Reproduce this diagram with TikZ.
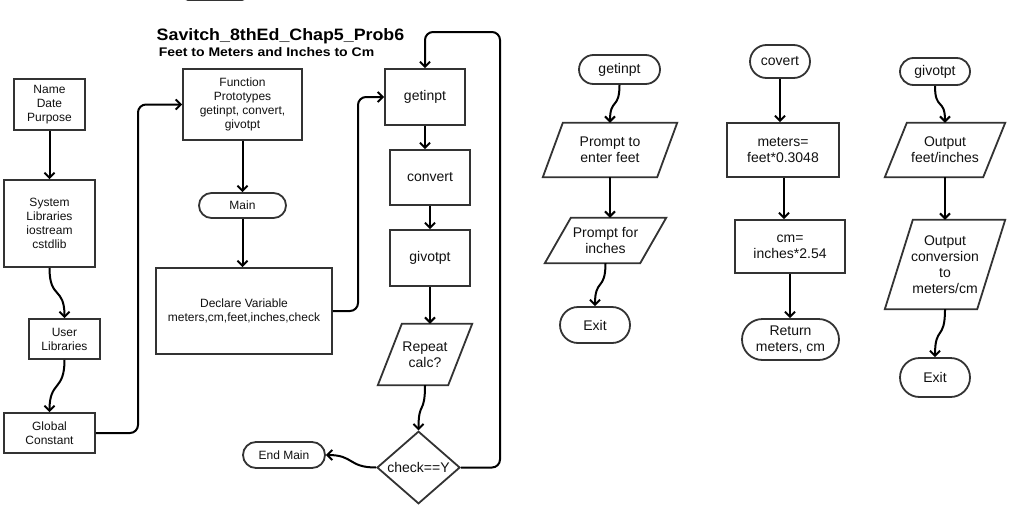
\documentclass[tikz,border=0pt]{standalone}
\usepackage{graphicx}
\usepackage{fontspec}
\setmainfont{Liberation Sans}
\usetikzlibrary{arrows.meta,shapes.geometric,shapes.misc}
\definecolor{boxc}{HTML}{333333}
\definecolor{txtc}{HTML}{111111}
\newcommand\fsa{\fontsize{12}{14}\selectfont}
\newcommand\fsb{\fontsize{14}{16}\selectfont}
\newcommand\drawpara[2]{\draw[boxline] ([xshift=#2]#1.north west) -- (#1.north east) -- ([xshift=-#2]#1.south east) -- (#1.south west) -- cycle;}
\tikzset{
  boxline/.style={draw=boxc, line width=1.8pt, line join=miter},
  box/.style={rectangle, draw=boxc, line width=1.8pt, align=center, inner sep=0pt, text=txtc, font=\fsa},
  term/.style={rounded rectangle, draw=boxc, line width=1.8pt, align=center, inner sep=0pt, text=txtc, font=\fsa},
  para/.style={rectangle, align=center, inner sep=0pt, text=txtc, font=\fsb},
  conn/.style={draw=black, line width=2pt, -{Straight Barb[length=5pt,width=10pt,line width=2pt]}},
}
\begin{document}
\begin{tikzpicture}[x=1pt,y=-1pt]
\useasboundingbox[fill=white] (0,0) rectangle (1016,522);
% partially visible shape at top
\draw[boxline, rounded corners=3pt] (185,-20) -- (185,0) -- (245,0) -- (245,-20);
% titles
\node[font=\fontsize{16.5}{18}\selectfont\bfseries, inner sep=0pt] (title) at (280.5,36) {\scalebox{1.08}[1]{Savitch\_8thEd\_Chap5\_Prob6}};
\node[font=\fontsize{12.5}{14}\selectfont\bfseries, inner sep=0pt] (sub) at (266.5,52) {\scalebox{1.12}[1]{Feet to Meters and Inches to Cm}};
% left column
\node[box, minimum width=71pt, minimum height=51pt] (ndp) at (49.5,104.5) {Name\\Date\\Purpose};
\node[box, minimum width=91pt, minimum height=87pt] (sl) at (49.5,223.5) {System\\Libraries\\iostream\\cstdlib};
\node[box, minimum width=71pt, minimum height=40pt] (ul) at (64.5,339) {User\\Libraries};
\node[box, minimum width=91pt, minimum height=40pt] (gc) at (49.5,433) {Global\\Constant};
% main column
\node[box, minimum width=119pt, minimum height=71pt] (fp) at (242.5,104.5) {Function\\Prototypes\\getinpt, convert,\\givotpt};
\node[term, minimum width=87pt, minimum height=25pt] (mn) at (242.5,205.5) {Main};
\node[box, minimum width=176pt, minimum height=86pt] (dv) at (244,311) {Declare Variable\\meters,cm,feet,inches,check};
\node[box, font=\fsb, minimum width=80pt, minimum height=56pt] (gi) at (425,97) {getinpt};
\node[box, font=\fsb, minimum width=80pt, minimum height=55pt] (cv) at (430,177.5) {convert};
\node[box, font=\fsb, minimum width=80pt, minimum height=56pt] (gv) at (430,258) {givotpt};
\node[para, minimum width=94pt, minimum height=61pt] (rc) at (425,354.5) {Repeat\\calc?};
\drawpara{rc}{24pt}
\node[diamond, draw=boxc, line width=1.8pt, inner sep=0pt, minimum width=83pt, minimum height=69pt, text=txtc, font=\fsb] (chk) at (418.5,467.5) {check==Y};
\node[term, minimum width=82pt, minimum height=26pt] (em) at (284,455) {End Main};
% getinpt function
\node[term, font=\fsb, minimum width=81pt, minimum height=29pt] (t1) at (619.5,69.5) {getinpt};
\node[para, minimum width=134pt, minimum height=54pt] (p1) at (610,150) {Prompt to\\enter feet};
\drawpara{p1}{20pt}
\node[para, minimum width=121pt, minimum height=45pt] (p2) at (605.5,240.5) {Prompt for\\inches};
\drawpara{p2}{26pt}
\node[term, font=\fsb, minimum width=70pt, minimum height=36pt] (x1) at (595,325) {Exit};
% covert function
\node[term, font=\fsb, minimum width=60pt, minimum height=33pt] (t2) at (780,61.5) {covert};
\node[box, font=\fsb, minimum width=112pt, minimum height=54pt] (m1) at (783,150) {meters=\\feet*0.3048};
\node[box, font=\fsb, minimum width=110pt, minimum height=53pt] (m2) at (790,246.5) {cm=\\inches*2.54};
\node[term, font=\fsb, minimum width=97pt, minimum height=41pt] (r2) at (790.5,339.5) {Return\\meters, cm};
% givotpt function
\node[term, font=\fsb, minimum width=70pt, minimum height=27pt] (t3) at (935,71.5) {givotpt};
\node[para, minimum width=120pt, minimum height=54pt] (o1) at (945,150) {Output\\feet/inches};
\drawpara{o1}{22pt}
\node[para, minimum width=120pt, minimum height=89pt] (o2) at (945,264.5) {Output\\conversion\\to\\meters/cm};
\drawpara{o2}{28pt}
\node[term, font=\fsb, minimum width=70pt, minimum height=39pt] (x3) at (935,377.5) {Exit};
% waypoints
\coordinate (w1) at (138,433);
\coordinate (w2) at (358,311);
\coordinate (w3) at (500,32);
% connectors left
\draw[conn] (ndp.south) -- (ndp.south |- sl.north);
\draw[conn] (sl.south) .. controls +(0,32) and +(0,-32) .. (ul.north);
\draw[conn] (ul.south) .. controls +(0,32) and +(0,-32) .. (gc.north);
\draw[conn, rounded corners=8pt] (gc.east) -- (w1) |- (fp.west);
\draw[conn] (fp.south) -- (mn.north);
\draw[conn] (mn.south) -- (mn.south |- dv.north);
\draw[conn, rounded corners=8pt] (dv.east) -- (w2) |- (gi.west);
\draw[conn] (gi.south) -- (gi.south |- cv.north);
\draw[conn] (cv.south) -- (cv.south |- gv.north);
\draw[conn] (gv.south) -- (gv.south |- rc.north);
\draw[conn] (rc.south) .. controls +(0,30) and +(0,-30) .. (chk.north);
\draw[conn] (chk.west) .. controls +(-28,0) and +(28,0) .. (em.east);
\draw[conn, rounded corners=8pt] (chk.east) -| (w3) -| (gi.north);
% connectors right
\draw[conn] (t1.south) .. controls +(0,25) and +(0,-25) .. (p1.north);
\draw[conn] (p1.south) -- (p1.south |- p2.north);
\draw[conn] (p2.south) .. controls +(0,28) and +(0,-28) .. (x1.north);
\draw[conn] (t2.south) -- (t2.south |- m1.north);
\draw[conn] ([xshift=1pt]m1.south) -- ([xshift=1pt]m1.south |- m2.north);
\draw[conn] (m2.south) -- (m2.south |- r2.north);
\draw[conn] (t3.south) .. controls +(0,25) and +(0,-25) .. (o1.north);
\draw[conn] (o1.south) -- (o2.north);
\draw[conn] (o2.south) .. controls +(0,32) and +(0,-32) .. (x3.north);
\end{tikzpicture}
\end{document}
